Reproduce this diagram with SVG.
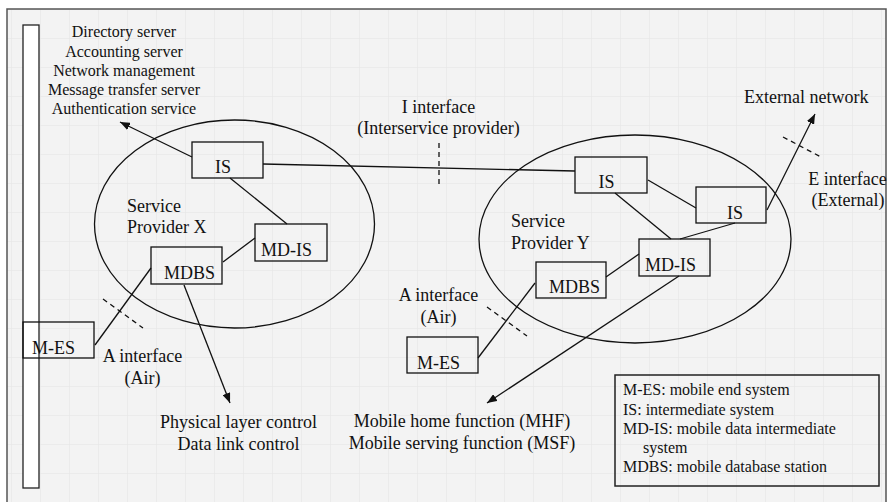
<svg xmlns="http://www.w3.org/2000/svg" width="888" height="502" viewBox="0 0 888 502" font-family="'Liberation Serif', 'Times New Roman', serif">
  <style>
    .t16 { font-size: 16px; fill: #111; }
    .t18 { font-size: 18px; fill: #111; }
    .mid { text-anchor: middle; }
    .box { fill: none; stroke: #111; stroke-width: 1.3; }
    .ln { fill: none; stroke: #111; stroke-width: 1.3; }
    .dash { fill: none; stroke: #111; stroke-width: 1.3; stroke-dasharray: 5 4; }
    .arr { marker-end: url(#head); }
  </style>
  <defs>
    <marker id="head" viewBox="0 0 10 8" refX="10" refY="4" markerWidth="10" markerHeight="8" markerUnits="userSpaceOnUse" orient="auto">
      <path d="M0,0 L10,4 L0,8 Z" fill="#111"/>
    </marker>
    <pattern id="grid" x="11" y="9" width="29" height="29" patternUnits="userSpaceOnUse">
      <path d="M0,0 H29 M0,0 V29" stroke="#e4e4e4" stroke-width="1" fill="none"/>
    </pattern>
  </defs>

  <!-- page background -->
  <rect x="0" y="0" width="888" height="502" fill="#ffffff"/>
  <rect x="7" y="9" width="879" height="500" fill="#f3f3f3"/>
  <rect x="7" y="9" width="879" height="500" fill="url(#grid)"/>
  <rect x="7" y="9" width="879" height="500" fill="none" stroke="#555" stroke-width="1.5"/>

  <!-- vertical bar at the left -->
  <rect x="23" y="25" width="16" height="463" fill="#ffffff" stroke="#222" stroke-width="1.3"/>

  <g font-family="Liberation Serif, Times New Roman, serif">
  <!-- service provider areas -->
  <g id="provider-x">
    <ellipse cx="234.5" cy="224" rx="140" ry="104" fill="none" stroke="#111" stroke-width="1.3"/>
    <text class="t18" x="127" y="212">Service</text>
    <text class="t18" x="127" y="233">Provider X</text>
  </g>
  <g id="provider-y">
    <ellipse cx="635" cy="239" rx="156" ry="104" fill="none" stroke="#111" stroke-width="1.3"/>
    <text class="t18" x="511" y="227">Service</text>
    <text class="t18" x="511" y="249">Provider Y</text>
  </g>

  <!-- connectors -->
  <g id="connectors">
    <path class="ln arr" d="M192,157 L120,122"/>
    <path class="ln" d="M263,164 L575,171"/>
    <path class="ln" d="M230,178 L287,224"/>
    <path class="ln" d="M223,262 L255,238"/>
    <path class="ln" d="M95,345 L151,268"/>
    <path class="ln arr" d="M184,285 L230,403"/>
    <path class="ln" d="M648,180 L696,208"/>
    <path class="ln" d="M615,193 L671,239"/>
    <path class="ln" d="M735,223 L680,239"/>
    <path class="ln" d="M606,277 L639,254"/>
    <path class="ln" d="M478,358 L535,283"/>
    <path class="ln arr" d="M679,276 L487,403"/>
    <path class="ln arr" d="M767,210 L815,114"/>
    <!-- interface cut marks -->
    <path class="dash" d="M439,143 L439,185"/>
    <path class="dash" d="M103,299 L143,328"/>
    <path class="dash" d="M487,307 L527,336"/>
    <path class="dash" d="M783,137 L821,157"/>
  </g>

  <!-- nodes -->
  <g id="is-x">
    <rect class="box" x="192" y="142" width="71" height="36"/>
    <text class="t18 mid" x="223" y="173">IS</text>
  </g>
  <g id="mdis-x">
    <rect class="box" x="255" y="224" width="72" height="37"/>
    <text class="t18" x="261" y="256">MD-IS</text>
  </g>
  <g id="mdbs-x">
    <rect class="box" x="151" y="247" width="71" height="37"/>
    <text class="t18" x="164" y="279">MDBS</text>
  </g>
  <g id="mes-x">
    <rect class="box" x="23" y="322" width="71" height="36"/>
    <text class="t18" x="32" y="354">M-ES</text>
  </g>
  <g id="is-y1">
    <rect class="box" x="575" y="157" width="72" height="36"/>
    <text class="t18 mid" x="606.5" y="188">IS</text>
  </g>
  <g id="is-y2">
    <rect class="box" x="696" y="187" width="70" height="36"/>
    <text class="t18 mid" x="735" y="219">IS</text>
  </g>
  <g id="mdis-y">
    <rect class="box" x="639" y="239" width="71" height="37"/>
    <text class="t18" x="645" y="271">MD-IS</text>
  </g>
  <g id="mdbs-y">
    <rect class="box" x="536" y="262" width="70" height="36"/>
    <text class="t18" x="549" y="293">MDBS</text>
  </g>
  <g id="mes-y">
    <rect class="box" x="407" y="337" width="71" height="36"/>
    <text class="t18" x="417" y="369">M-ES</text>
  </g>

  <!-- labels -->
  <g id="services">
    <text class="t16 mid" x="124" y="37">Directory server</text>
    <text class="t16 mid" x="124" y="57">Accounting server</text>
    <text class="t16 mid" x="124" y="76">Network management</text>
    <text class="t16 mid" x="124" y="95">Message transfer server</text>
    <text class="t16 mid" x="124" y="114">Authentication service</text>
  </g>
  <g id="i-interface">
    <text class="t18 mid" x="438.5" y="113">I interface</text>
    <text class="t18 mid" x="438.5" y="134">(Interservice provider)</text>
  </g>
  <g id="external">
    <text class="t18" x="744" y="103">External network</text>
    <text class="t18 mid" x="847.5" y="185">E interface</text>
    <text class="t18 mid" x="848" y="206">(External)</text>
  </g>
  <g id="a-interface-x">
    <text class="t18 mid" x="142.5" y="362">A interface</text>
    <text class="t18 mid" x="142.5" y="384">(Air)</text>
  </g>
  <g id="a-interface-y">
    <text class="t18 mid" x="438.5" y="301">A interface</text>
    <text class="t18 mid" x="438.5" y="323">(Air)</text>
  </g>
  <g id="radio-functions">
    <text class="t18 mid" x="238.5" y="428">Physical layer control</text>
    <text class="t18 mid" x="238.5" y="450">Data link control</text>
  </g>
  <g id="mobile-functions">
    <text class="t18 mid" x="462" y="427">Mobile home function (MHF)</text>
    <text class="t18 mid" x="462" y="449">Mobile serving function (MSF)</text>
  </g>

  <!-- legend -->
  <g id="legend">
    <rect x="615" y="375" width="264" height="111" fill="none" stroke="#222" stroke-width="1.5"/>
    <text class="t16" x="623" y="395">M-ES: mobile end system</text>
    <text class="t16" x="623" y="415">IS: intermediate system</text>
    <text class="t16" x="623" y="434">MD-IS: mobile data intermediate</text>
    <text class="t16" x="643" y="453">system</text>
    <text class="t16" x="623" y="472">MDBS: mobile database station</text>
  </g>
  </g>
</svg>
